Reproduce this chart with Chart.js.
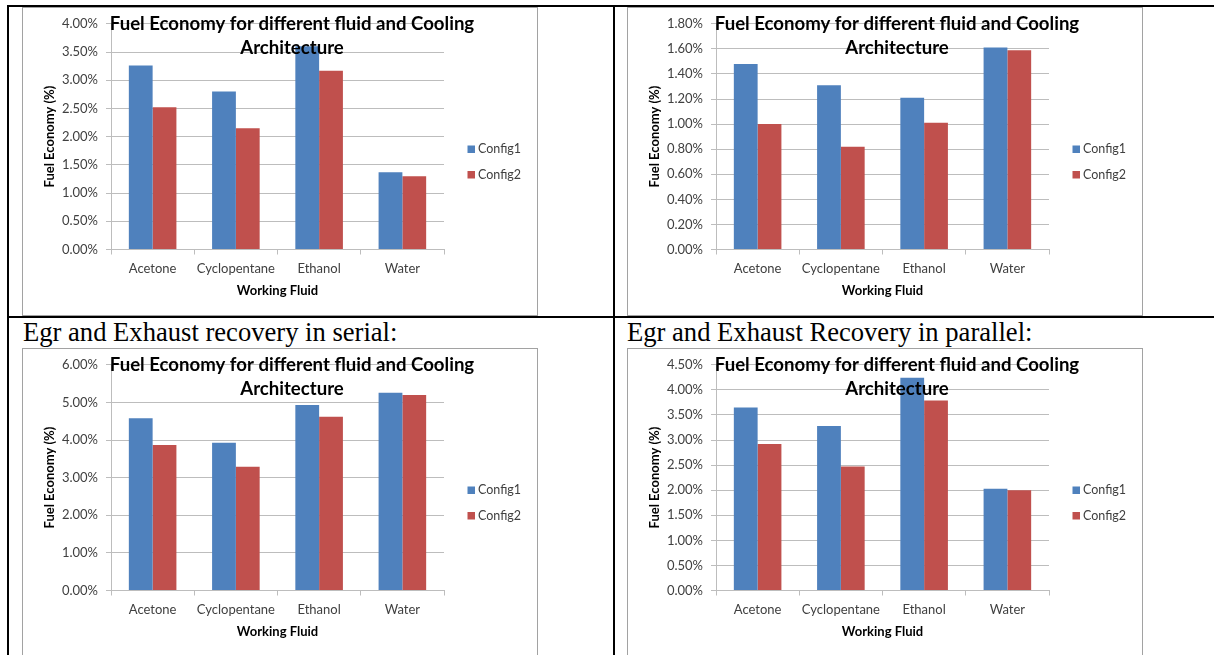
<!DOCTYPE html>
<html>
<head>
<meta charset="utf-8">
<script src="https://cdn.jsdelivr.net/npm/chart.js@4.4.1/dist/chart.umd.min.js"></script>
<style>
  html, body { margin: 0; padding: 0; background: #fff; }
  body { position: relative; width: 1214px; height: 655px; overflow: hidden; }
  .box { position: absolute; border: 1px solid #a2a2a2; background: #fff; width: 514px; height: 307px; }
  .box canvas { display: block; }
  .rule { position: absolute; background: #000; }
  .caption { position: absolute; font-family: 'Liberation Serif', 'Times New Roman', serif;
             font-size: 26.6px; line-height: 1; color: #000; white-space: nowrap; }
</style>
</head>
<body>

<div class="box" style="left:22px; top:7px;"><canvas id="c1" width="514" height="307"></canvas></div>
<div class="box" style="left:627px; top:7px;"><canvas id="c2" width="514" height="307"></canvas></div>
<div class="box" style="left:22px; top:348px;"><canvas id="c3" width="514" height="307"></canvas></div>
<div class="box" style="left:627px; top:348px;"><canvas id="c4" width="514" height="307"></canvas></div>

<div class="caption" style="left:23px; top:319px;">Egr and Exhaust recovery in serial:</div>
<div class="caption" style="left:627px; top:319px;">Egr and Exhaust Recovery in parallel:</div>

<!-- table rules -->
<div class="rule" style="left:7px; top:5px; width:1207px; height:2px;"></div>
<div class="rule" style="left:7px; top:5px; width:2px; height:650px;"></div>
<div class="rule" style="left:613px; top:5px; width:2px; height:650px;"></div>
<div class="rule" style="left:7px; top:316px; width:1207px; height:2px;"></div>

<script>
// Working fluids on the category axis
const fluids = ['Acetone', 'Cyclopentane', 'Ethanol', 'Water'];
const seriesNames = ['Config1', 'Config2'];

// Fuel economy (%) per cooling architecture
const baseConfig1 = [3.26, 2.80, 3.60, 1.37];
const baseConfig2 = [2.52, 2.15, 3.17, 1.30];

const altConfig1 = [1.48, 1.31, 1.21, 1.61];
const altConfig2 = [1.00, 0.82, 1.01, 1.59];

const serialConfig1 = [4.58, 3.93, 4.93, 5.26];
const serialConfig2 = [3.87, 3.29, 4.62, 5.20];

const parallelConfig1 = [3.65, 3.28, 4.24, 2.03];
const parallelConfig2 = [2.92, 2.47, 3.79, 2.00];

// Value-axis ranges: [max, step]
const baseAxis = [4.0, 0.5];
const altAxis = [1.8, 0.2];
const serialAxis = [6.0, 1.0];
const parallelAxis = [4.5, 0.5];

const titleLines = ['Fuel Economy for different fluid and Cooling', 'Architecture'];
const yTitle = 'Fuel Economy (%)';
const xTitle = 'Working Fluid';

const seriesColors = ['#4F81BD', '#C0504D'];
const gridColor = '#bdbdbd';
const textColor = '#404040';
const FONT = "Lato, 'Open Sans', sans-serif";

Chart.defaults.font.family = FONT;
Chart.defaults.color = textColor;

// Two-line title laid over the plot, as the office chart does
const titlePlugin = {
  id: 'overTitle',
  afterDatasetsDraw(chart) {
    const ctx = chart.ctx;
    ctx.save();
    ctx.font = "bold 18.6px " + FONT;
    ctx.fillStyle = '#000';
    ctx.textAlign = 'center';
    ctx.textBaseline = 'middle';
    const cx = 269;
    ctx.fillText(titleLines[0], cx, 15.5);
    ctx.fillText(titleLines[1], cx, 39.6);
    ctx.restore();
  }
};

// Legend block at the right of the plot
const legendPlugin = {
  id: 'sideLegend',
  afterDraw(chart) {
    const ctx = chart.ctx;
    ctx.save();
    ctx.font = "12.5px " + FONT;
    ctx.textBaseline = 'middle';
    ctx.textAlign = 'left';
    chart.data.datasets.forEach((ds, i) => {
      const y = 141 + i * 25.5;
      ctx.fillStyle = ds.backgroundColor;
      ctx.fillRect(444.5, y - 3.5, 7.5, 7.5);
      ctx.fillStyle = textColor;
      ctx.fillText(ds.label, 455, y);
    });
    ctx.restore();
  }
};

function drawChart(id, c1, c2, axis) {
  const [yMax, yStep] = axis;
  return new Chart(document.getElementById(id), {
    type: 'bar',
    data: {
      labels: fluids,
      datasets: [
        { label: seriesNames[0], data: c1, backgroundColor: seriesColors[0] },
        { label: seriesNames[1], data: c2, backgroundColor: seriesColors[1] }
      ]
    },
    options: {
      responsive: false,
      animation: false,
      devicePixelRatio: 1,
      categoryPercentage: 2 / 3.5,
      barPercentage: 1.0,
      layout: { padding: { left: 0, right: 93, top: 15.5, bottom: 5.5 } },
      plugins: { legend: { display: false }, title: { display: false }, tooltip: { enabled: false } },
      scales: {
        x: {
          offset: true,
          grid: { offset: true, drawOnChartArea: false, drawTicks: true, tickLength: 5, color: gridColor },
          border: { color: gridColor },
          ticks: { padding: 6.5, color: textColor, font: { size: 13 }, maxRotation: 0 },
          title: { display: true, text: xTitle, color: '#000', font: { size: 13, weight: 'bold' },
                   padding: { top: 0, bottom: 11 } },
          afterFit(scale) { scale.height = 60; }
        },
        y: {
          min: 0,
          max: yMax,
          grid: { color: gridColor, tickLength: 5 },
          border: { color: gridColor },
          ticks: {
            stepSize: yStep,
            padding: 8,
            color: textColor,
            font: { size: 13 },
            callback: v => v.toFixed(2) + '%'
          },
          title: { display: true, text: yTitle, color: '#000', font: { size: 13, weight: 'bold' },
                   padding: { top: 19, bottom: 0 } },
          afterFit(scale) { scale.width = 88; }
        }
      }
    },
    plugins: [titlePlugin, legendPlugin]
  });
}

drawChart('c1', baseConfig1, baseConfig2, baseAxis);
drawChart('c2', altConfig1, altConfig2, altAxis);
drawChart('c3', serialConfig1, serialConfig2, serialAxis);
drawChart('c4', parallelConfig1, parallelConfig2, parallelAxis);
</script>
</body>
</html>
